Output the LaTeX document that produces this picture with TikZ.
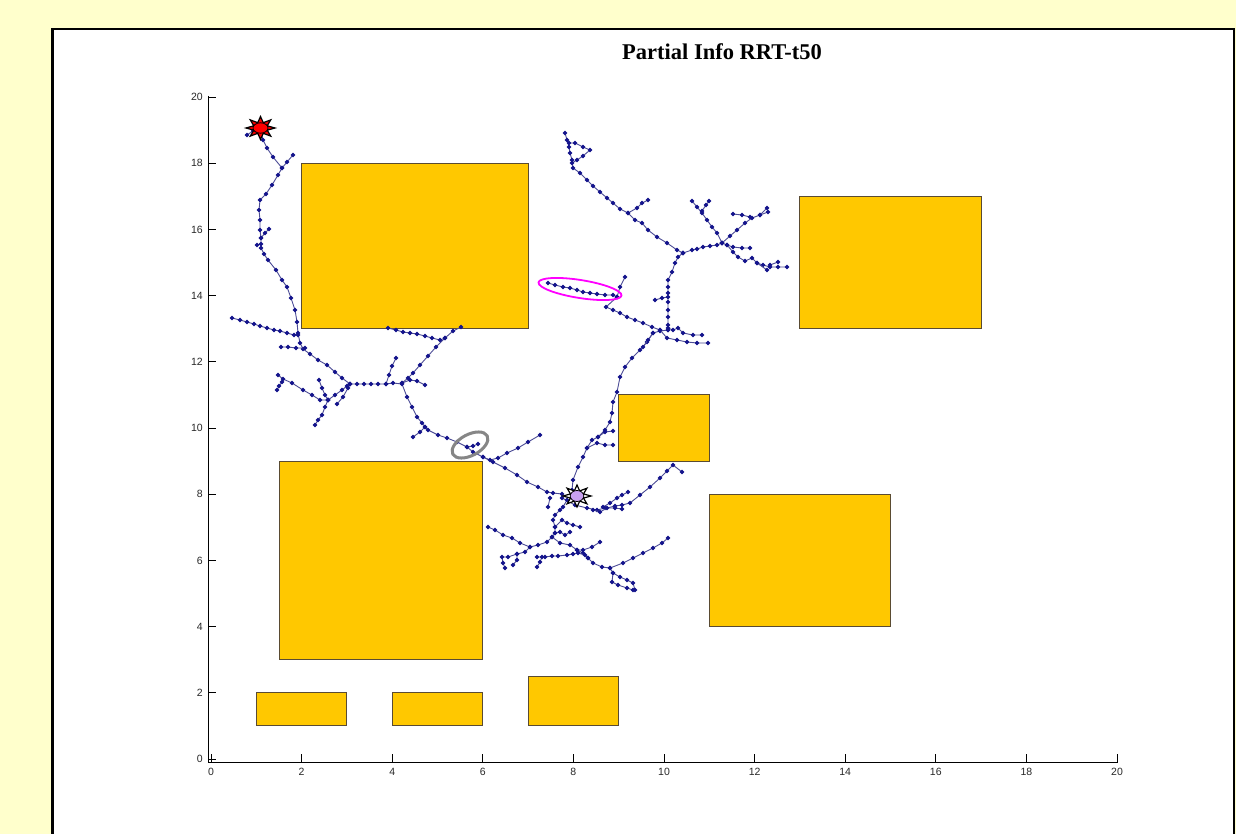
\documentclass[tikz,border=0pt]{standalone}
\usepackage{fontspec}
\setmainfont{Liberation Serif}
\setsansfont{Liberation Sans}
\definecolor{bgyel}{RGB}{255,255,204}
\definecolor{obst}{RGB}{255,200,0}
\definecolor{obedge}{RGB}{90,75,50}
\definecolor{tline}{RGB}{75,75,150}
\definecolor{tmark}{RGB}{20,20,140}
\definecolor{goalc}{RGB}{200,160,240}
\definecolor{labc}{RGB}{40,40,40}
\definecolor{pinkc}{RGB}{255,0,255}
\newcommand\tbranch[1]{\draw[treeline] plot[mark=*, mark options={treemark}] coordinates {#1};}
\begin{document}
\begin{tikzpicture}[x=1pt,y=-1pt,
  obstacle/.style={fill=obst,draw=obedge,line width=0.9pt},
  treeline/.style={draw=tline,line width=0.9pt},
  treemark/.style={fill=tmark,draw=tmark,mark size=1.7pt,solid},
  axisline/.style={draw=black,line width=0.7pt},
  ticklab/.style={font=\sffamily\fontsize{10.5}{12}\selectfont,text=labc,inner sep=1pt},
  titlestyle/.style={font=\bfseries\fontsize{22.5}{26}\selectfont,inner sep=0pt}]
\useasboundingbox (0,0) rectangle (1236,834);
\fill[bgyel] (0,0) rectangle (1236,834);
\fill[white] (52,29) rectangle (1234,850);
\draw[black,line width=1.6pt] (52,850) -- (52,29) -- (1234,29) -- (1234,850);
\draw[black,line width=1pt] (53.5,850) -- (53.5,30);
% title
\node[titlestyle] (title) at (722,52) {Partial Info RRT-t50};
% axes
\draw[axisline] (208,96) -- (208,762) -- (1118,762);
\foreach \i in {0,...,10} {
  \pgfmathsetmacro\xx{211+90.6*\i}
  \pgfmathsetmacro\yy{759-66.2*\i}
  \pgfmathtruncatemacro\lab{2*\i}
  \draw[axisline] (\xx,762) -- (\xx,754);
  \draw[axisline] (208,\yy) -- (216,\yy);
  \node[ticklab,anchor=north] (xl\i) at (\xx,767) {\lab};
  \node[ticklab,anchor=east] (yl\i) at (204,\yy) {\lab};
}
% obstacles
\draw[obstacle] (301.6,163.2) rectangle (528.1,328.7);
\draw[obstacle] (799.9,196.3) rectangle (981.1,328.7);
\draw[obstacle] (618.7,394.9) rectangle (709.3,461.1);
\draw[obstacle] (279.0,461.1) rectangle (482.8,659.7);
\draw[obstacle] (709.3,494.2) rectangle (890.5,626.6);
\draw[obstacle] (256.3,692.8) rectangle (346.9,725.9);
\draw[obstacle] (392.2,692.8) rectangle (482.8,725.9);
\draw[obstacle] (528.1,676.3) rectangle (618.7,725.9);
% tree
\tbranch{(260,128) (253,131) (247,135)}
\tbranch{(260,128) (263,140) (267,148) (273,157) (282,168) (278,175) (272,185) (266,194) (260,200) (259,210) (260,220) (260,230) (261,238) (261,248) (264,254) (268,260) (276,270) (282,280) (287,287) (291,298) (295,310) (297,322) (298,333) (300,343) (303,349) (310,354) (318,360) (327,365) (335,372) (342,378) (350,384) (357,384) (364,384) (371,384) (378,384) (386,384) (393,383) (402,384) (407,397) (412,407) (417,417) (422,423) (425,427) (428,430) (438,435) (447,438) (457,442) (467,447) (473,452) (483,457) (493,462) (505,468) (517,475) (527,482) (538,487) (547,492) (553,493) (562,494)}
\tbranch{(282,168) (287,162) (293,155)}
\tbranch{(261,238) (265,233) (269,229)}
\tbranch{(261,244) (257,245)}
\tbranch{(298,335) (294,335) (287,333) (280,331) (274,330) (267,328) (260,326) (254,324) (247,322) (240,320) (232,318)}
\tbranch{(305,348) (296,348) (288,347) (281,347)}
\tbranch{(386,384) (389,375) (392,366) (396,358)}
\tbranch{(402,383) (408,378) (413,373) (420,365) (428,356) (436,347) (445,338) (453,331) (461,327)}
\tbranch{(388,328) (396,330) (403,332) (410,333) (417,334) (425,336) (432,338) (440,340) (445,338)}
\tbranch{(402,383) (410,380) (417,381) (425,385)}
\tbranch{(425,427) (420,432) (413,437)}
\tbranch{(350,384) (347,386) (342,390) (335,395) (328,400)}
\tbranch{(328,400) (325,395) (322,388) (319,380)}
\tbranch{(328,400) (320,400) (312,395) (303,390) (292,383) (283,379) (278,375)}
\tbranch{(282,382) (279,386) (277,390)}
\tbranch{(328,400) (325,407) (322,415) (318,420) (315,425)}
\tbranch{(350,384) (348,388) (343,397) (337,404)}
\tbranch{(467,447) (473,446) (478,444)}
\tbranch{(483,457) (490,460) (498,458) (507,453) (518,448) (528,442) (540,435)}
% path from goal upward
\tbranch{(572,490) (573,480) (578,467) (583,457) (587,448) (592,440) (598,437) (605,430) (610,422) (612,413) (613,402) (617,392) (620,377) (625,367) (632,358) (640,350) (647,342) (653,333) (660,331) (668,330)}
\tbranch{(587,448) (597,443) (605,445) (613,445)}
\tbranch{(598,437) (605,432) (613,431)}
% upper tree
\tbranch{(668,330) (668,325) (668,317) (668,310) (668,302) (668,293) (668,287) (668,280) (672,272) (675,263) (678,257) (683,253)}
\tbranch{(683,253) (677,250) (667,243) (657,237) (648,230) (642,223) (635,220) (628,213) (620,209) (613,203) (607,198) (600,192) (593,186) (587,180) (580,173) (573,168) (572,160) (570,153) (569,147) (567,140) (565,133)}
\tbranch{(569,143) (575,143) (583,147) (590,150) (583,156) (577,160) (572,163)}
\tbranch{(628,213) (637,208) (642,203) (648,200)}
\tbranch{(683,253) (692,250) (697,249) (703,247) (710,246) (717,245) (722,243)}
\tbranch{(722,243) (717,233) (712,227) (707,220) (702,213) (697,207) (692,201)}
\tbranch{(702,211) (706,205) (709,201)}
\tbranch{(722,243) (730,236) (737,230) (745,223) (752,218) (760,215) (767,208)}
\tbranch{(733,214) (742,215) (750,217)}
\tbranch{(760,215) (768,212)}
\tbranch{(722,243) (727,245) (733,247) (742,248) (750,248)}
\tbranch{(727,245) (733,252) (738,257) (745,261) (752,258) (757,263) (763,265) (770,267) (778,267) (787,267)}
\tbranch{(757,263) (767,270)}
\tbranch{(770,265) (778,262)}
\tbranch{(548,283) (555,285) (563,287) (570,288) (577,290) (583,292) (590,293) (597,294) (605,295) (613,295) (617,297)}
\tbranch{(617,297) (620,287) (625,277)}
\tbranch{(617,297) (606,307) (613,310) (620,313) (627,317) (635,320) (643,323) (652,327) (660,330)}
\tbranch{(668,328) (673,330) (678,328) (683,333) (693,335) (702,335)}
\tbranch{(660,330) (667,338) (677,340) (687,342) (697,343) (708,343)}
\tbranch{(653,333) (648,340) (643,347)}
\tbranch{(668,297) (662,298) (655,300)}
% goal cluster
\tbranch{(562,498) (575,505) (587,508) (597,510) (605,508) (615,508) (622,509)}
\tbranch{(603,507) (610,503) (617,498) (622,495) (628,492)}
\tbranch{(593,510) (600,512) (607,508) (615,506) (622,505) (630,503) (640,495) (650,487) (660,478) (667,471) (673,465) (682,472)}
\tbranch{(567,500) (563,507) (560,510) (555,515) (553,520) (555,527) (555,533) (552,537) (547,542) (538,545) (530,547) (520,543) (512,538) (503,535) (495,530) (488,527)}
\tbranch{(530,547) (525,552) (517,554) (508,557) (502,557) (503,563) (505,568)}
\tbranch{(517,554) (517,560) (513,565)}
\tbranch{(555,527) (562,520) (567,523) (573,525) (580,527)}
\tbranch{(555,533) (560,532) (565,535) (570,532)}
\tbranch{(550,498) (548,507)}
\tbranch{(552,537) (560,543) (570,545) (577,550) (583,553)}
\tbranch{(537,557) (545,557) (552,556) (558,556) (567,555) (573,554) (578,553) (585,555) (588,558)}
\tbranch{(542,557) (540,562) (537,567)}
\tbranch{(577,550) (583,550) (592,547) (600,542)}
\tbranch{(588,558) (593,563) (602,567) (610,568) (613,573) (620,577) (627,580) (633,583) (635,590)}
\tbranch{(613,573) (612,582) (618,585) (627,588) (633,590)}
\tbranch{(610,568) (623,563) (633,558) (643,553) (653,548) (662,543) (668,538)}
% highlight ellipses
\draw[gray!95,line width=3pt,rotate around={28:(470,445)}] (470,445) ellipse [x radius=19.5, y radius=10.5];
\draw[pinkc,line width=1.8pt,rotate around={-9:(580,289)}] (580,289) ellipse [x radius=42, y radius=9];
% start marker
\begin{scope}[shift={(260.5,128)},x=14.5pt,y=11.5pt]
\draw[fill=red,draw=black,line width=1.2pt] (0:1) -- (22.5:0.5) -- (45:1) -- (67.5:0.5) -- (90:1) -- (112.5:0.5) -- (135:1) -- (157.5:0.5) -- (180:1) -- (202.5:0.5) -- (225:1) -- (247.5:0.5) -- (270:1) -- (292.5:0.5) -- (315:1) -- (337.5:0.5) -- cycle;
\end{scope}
\fill[red,draw=black,line width=0.8pt] (260.5,128) ellipse [x radius=7.5, y radius=5.2];
% goal marker
\begin{scope}[shift={(577,496)},x=14pt,y=11pt]
\draw[fill=white,draw=black,line width=1.2pt] (0:1) -- (22.5:0.5) -- (45:1) -- (67.5:0.5) -- (90:1) -- (112.5:0.5) -- (135:1) -- (157.5:0.5) -- (180:1) -- (202.5:0.5) -- (225:1) -- (247.5:0.5) -- (270:1) -- (292.5:0.5) -- (315:1) -- (337.5:0.5) -- cycle;
\end{scope}
\fill[goalc,draw=black,line width=0.8pt] (577,496) ellipse [x radius=6.8, y radius=5.5];
\end{tikzpicture}
\end{document}
